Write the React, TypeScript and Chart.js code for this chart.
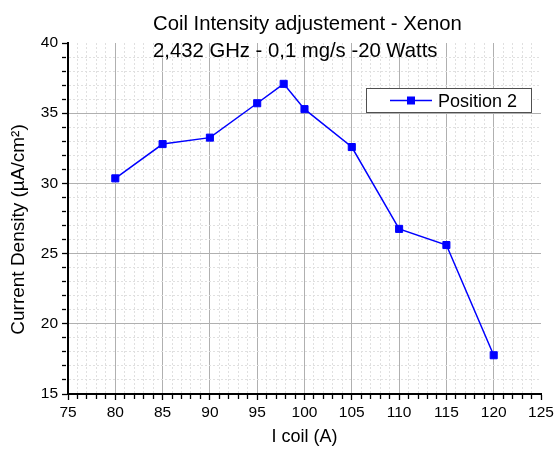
import React, { useEffect, useRef } from 'react';
import { Chart, registerables } from 'chart.js';

Chart.register(...registerables);

const currents = [80, 85, 90, 95, 97.8, 100, 105, 110, 115, 120];
const density = [30.36, 32.8, 33.26, 35.71, 37.09, 35.29, 32.59, 26.76, 25.61, 17.76];
const seriesLabel = 'Position 2';
const titleLines = ['Coil Intensity adjustement - Xenon', '2,432 GHz - 0,1 mg/s -20 Watts'];
const xTitle = 'I coil (A)';
const yTitle = 'Current Density (µA/cm²)';
const xMin = 75;
const xMax = 125;
const yMin = 15;
const yMax = 40;
const majorStep = 5;
const minorStep = 1;

const FONT = "'Liberation Sans', Arial, sans-serif";
const BLUE = '#0000ff';
const MAJOR_GRID = '#b0b0b0';
const MINOR_GRID = '#e0e0e0';

const isMajor = (v: number) => Math.abs(v / majorStep - Math.round(v / majorStep)) < 1e-6;

const gridColor = (max: number) => (ctx: any) => {
  if (!ctx.tick) return MINOR_GRID;
  const v = ctx.tick.value;
  if (Math.abs(v - max) < 1e-6) return 'rgba(0,0,0,0)';
  return isMajor(v) ? MAJOR_GRID : MINOR_GRID;
};
const gridDash = (ctx: any) => {
  if (!ctx.tick) return [];
  return isMajor(ctx.tick.value) ? [] : [2, 2];
};
const tickDash = (ctx: any) => {
  if (!ctx.tick) return [];
  return isMajor(ctx.tick.value) ? [] : [4, 100];
};

const overlayPlugin = {
  id: 'overlay',
  afterDraw(chart: any) {
    const ctx = chart.ctx;
    const area = chart.chartArea;
    ctx.save();
    // title
    ctx.fillStyle = '#000';
    ctx.font = `20.3px ${FONT}`;
    ctx.textAlign = 'left';
    ctx.textBaseline = 'alphabetic';
    ctx.fillText(titleLines[0], 153, 30);
    ctx.fillText(titleLines[1], 153, 56.5);

    // y axis title
    ctx.save();
    ctx.translate(19, (area.top + area.bottom) / 2 + 11);
    ctx.rotate(-Math.PI / 2);
    ctx.textAlign = 'center';
    ctx.textBaseline = 'middle';
    ctx.font = `19px ${FONT}`;
    ctx.fillText(yTitle, 0, 0);
    ctx.restore();

    // legend box
    const ds = chart.data.datasets[0];
    const bx = 366, by = 88, bw = 165, bh = 24;
    ctx.fillStyle = '#fff';
    ctx.fillRect(bx, by, bw, bh);
    ctx.strokeStyle = '#505050';
    ctx.lineWidth = 1;
    ctx.strokeRect(bx + 0.5, by + 0.5, bw, bh);
    const cy = by + bh / 2 + 0.5;
    ctx.strokeStyle = ds.borderColor;
    ctx.lineWidth = 1.5;
    ctx.beginPath();
    ctx.moveTo(390, cy);
    ctx.lineTo(432, cy);
    ctx.stroke();
    ctx.fillStyle = ds.pointBackgroundColor;
    ctx.fillRect(407, cy - 4, 8, 8);
    ctx.fillStyle = '#000';
    ctx.font = `18px ${FONT}`;
    ctx.textAlign = 'left';
    ctx.textBaseline = 'alphabetic';
    ctx.fillText(ds.label, 438, 106.5);
    ctx.restore();
  },
};

export default function App() {
  const ref = useRef<HTMLCanvasElement | null>(null);

  useEffect(() => {
    if (!ref.current) return;
    const chart = new Chart(ref.current, {
      type: 'line',
      data: {
        datasets: [
          {
            label: seriesLabel,
            data: currents.map((x, i) => ({ x, y: density[i] })),
            borderColor: BLUE,
            backgroundColor: BLUE,
            pointBackgroundColor: BLUE,
            pointBorderColor: BLUE,
            borderWidth: 1.5,
            pointStyle: 'rect',
            pointRadius: 5,
            pointBorderWidth: 1,
            tension: 0,
            fill: false,
          },
        ],
      },
      options: {
        responsive: false,
        animation: false,
        layout: { padding: { top: 43, right: 13, bottom: 0, left: 0 } },
        plugins: {
          legend: { display: false },
          title: { display: false },
          tooltip: { enabled: false },
        },
        scales: {
          x: {
            type: 'linear',
            min: xMin,
            max: xMax,
            afterFit: (s: any) => {
              s.height = 55;
              s.paddingLeft = 0;
              s.paddingRight = 0;
            },
            ticks: {
              stepSize: minorStep,
              autoSkip: false,
              maxRotation: 0,
              color: '#000',
              padding: 3,
              font: { family: FONT, size: 15.5 },
              callback: (v: any) => (isMajor(Number(v)) ? String(v) : ''),
            },
            grid: {
              color: gridColor(xMax),
              lineWidth: 1,
              tickLength: 6,
              tickColor: '#000',
              tickWidth: 1.3,
              tickBorderDash: tickDash,
            },
            border: { display: true, color: '#000', width: 2, dash: gridDash },
            title: {
              display: true,
              text: xTitle,
              color: '#000',
              font: { family: FONT, size: 18 },
              padding: { top: 0, bottom: 1 },
            },
          },
          y: {
            type: 'linear',
            min: yMin,
            max: yMax,
            afterFit: (s: any) => {
              s.width = 68;
              s.paddingTop = 0;
              s.paddingBottom = 0;
            },
            ticks: {
              stepSize: minorStep,
              autoSkip: false,
              color: '#000',
              padding: 4,
              font: { family: FONT, size: 15.5 },
              callback: (v: any) => (isMajor(Number(v)) ? String(v) : ''),
            },
            grid: {
              color: gridColor(yMax),
              lineWidth: 1,
              tickLength: 6,
              tickColor: '#000',
              tickWidth: 1.3,
              tickBorderDash: tickDash,
            },
            border: { display: true, color: '#000', width: 2, dash: gridDash },
            title: { display: false, text: yTitle },
          },
        },
      },
      plugins: [overlayPlugin],
    } as any);
    return () => chart.destroy();
  }, []);

  return (
    <div style={{ position: 'absolute', left: 0, top: 0, width: 554, height: 449, background: '#fff' }}>
      <canvas ref={ref} width={554} height={449} />
    </div>
  );
}
